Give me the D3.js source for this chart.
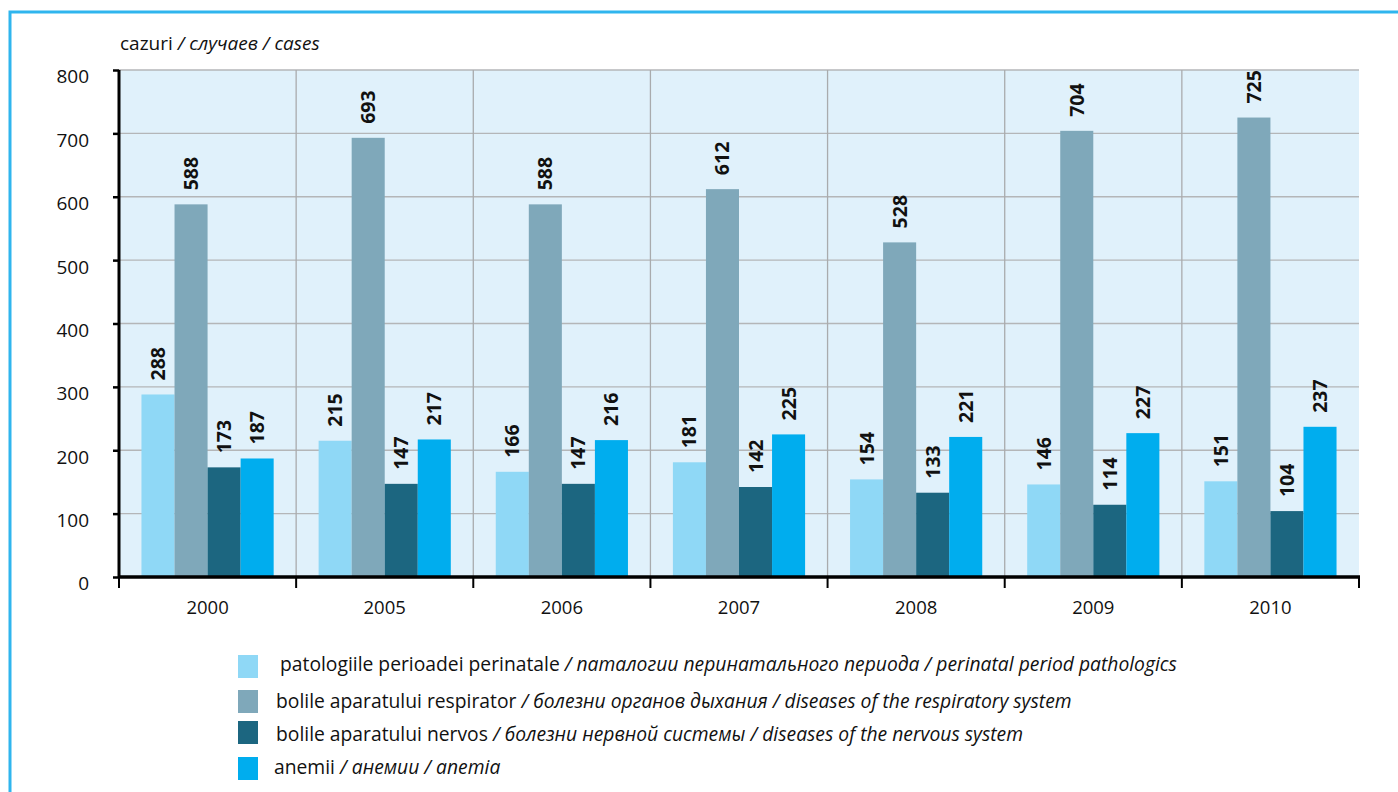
<!DOCTYPE html>
<html><head><meta charset="utf-8">
<script src="https://cdn.jsdelivr.net/npm/d3@7"></script>
<style>
html,body{margin:0;padding:0;background:#fff;}
svg{display:block;}
text{font-family:"Open Sans","Noto Sans",sans-serif;}
</style></head>
<body>
<script>
const years = ["2000","2005","2006","2007","2008","2009","2010"];
const perinatal = [288,215,166,181,154,146,151];
const respiratory = [588,693,588,612,528,704,725];
const nervous = [173,147,147,142,133,114,104];
const anemia = [187,217,216,225,221,227,237];
const yTicks = [0,100,200,300,400,500,600,700,800];
const seriesKeys = ["perinatal","respiratory","nervous","anemia"];
const seriesValues = [perinatal, respiratory, nervous, anemia];
const seriesColors = ["#8fd8f6","#7fa8ba","#1c6680","#00adee"];
const legendRo = ["patologiile perioadei perinatale","bolile aparatului respirator","bolile aparatului nervos","anemii"];
const legendRest = [" / паталогии перинатального периода / perinatal period pathologics",
  " / болезни органов дыхания / diseases of the respiratory system",
  " / болезни нервной системы / diseases of the nervous system",
  " / анемии / anemia"];
const yTitleRo = "cazuri";
const yTitleRest = " / случаев / cases";

const W=1398,H=792;
const svg=d3.select("body").append("svg").attr("width",W).attr("height",H);

// frame
svg.append("path").attr("d",`M10,${H+5} L10,12 L${W+5},12`).attr("fill","none")
  .attr("stroke","#2fb5ee").attr("stroke-width",3);

const L=119,R=1359,T=70,B=577;
const x=d3.scaleBand().domain(years).range([L,R]).paddingInner(0).paddingOuter(0);
const x1=d3.scaleBand().domain(seriesKeys).range([0,x.bandwidth()]).paddingInner(0).paddingOuter(0.68);
const y=d3.scaleLinear().domain([0,800]).range([B,T]);

svg.append("rect").attr("x",L).attr("y",T).attr("width",R-L).attr("height",B-T).attr("fill","#e0f1fb");

// horizontal grid
svg.append("g").selectAll("line").data(yTicks.filter(d=>d>0)).join("line")
  .attr("x1",L).attr("x2",R).attr("y1",d=>y(d)).attr("y2",d=>y(d))
  .attr("stroke","#b4b6b8").attr("stroke-width",1.3);
// vertical grid
svg.append("g").selectAll("line").data(years.slice(1)).join("line")
  .attr("x1",d=>x(d)).attr("x2",d=>x(d)).attr("y1",T).attr("y2",B)
  .attr("stroke","#a9abad").attr("stroke-width",1.3);

// bars
const groups=svg.append("g").selectAll("g").data(years).join("g")
  .attr("transform",d=>`translate(${x(d)},0)`);
seriesKeys.forEach((k,si)=>{
  groups.append("rect")
    .attr("x",x1(k)).attr("width",x1.bandwidth())
    .attr("y",(d,i)=>y(seriesValues[si][i]))
    .attr("height",(d,i)=>B-y(seriesValues[si][i]))
    .attr("fill",seriesColors[si]);
  groups.append("text")
    .attr("transform",(d,i)=>`translate(${x1(k)+x1.bandwidth()/2+7},${y(seriesValues[si][i])-14}) rotate(-90)`)
    .attr("font-size",19.5).attr("font-weight","bold").attr("fill","#111")
    .text((d,i)=>seriesValues[si][i]);
});

// y axis
const yAxis=d3.axisLeft(y).tickValues(yTicks).tickSize(6).tickPadding(24).tickFormat(d3.format("d"));
const gy=svg.append("g").attr("transform",`translate(${L},0)`).call(yAxis);
gy.select(".domain").attr("stroke","#000").attr("stroke-width",3).attr("d",`M0,${T}V${B+1}`);
gy.selectAll(".tick line").attr("stroke","#000").attr("stroke-width",2.5);
gy.selectAll(".tick text").attr("font-size",19).attr("fill","#111").attr("font-family","Open Sans").attr("dy","0.68em");

// x axis
const bounds=years.map(d=>x(d)).concat([R]);
svg.append("line").attr("x1",L-1).attr("x2",R+1).attr("y1",B).attr("y2",B).attr("stroke","#000").attr("stroke-width",3.5);
svg.append("g").selectAll("line").data(bounds).join("line")
  .attr("x1",d=>d).attr("x2",d=>d).attr("y1",B).attr("y2",B+11)
  .attr("stroke","#000").attr("stroke-width",2);
svg.append("g").selectAll("text").data(years).join("text")
  .attr("x",d=>x(d)+x.bandwidth()/2).attr("y",B+37).attr("text-anchor","middle")
  .attr("font-size",18.5).attr("fill","#111").text(d=>d);

// y title
const yt=svg.append("text").attr("x",120).attr("y",50).attr("font-size",19).attr("fill","#111");
yt.append("tspan").text(yTitleRo);
yt.append("tspan").attr("font-style","italic").text(yTitleRest);

// legend
const legY=[655,690,721,757];
const legTx=[280,276,276,274];
const legTy=[671,708,741,774];
legendRo.forEach((t,i)=>{
  svg.append("rect").attr("x",238).attr("y",legY[i]).attr("width",20).attr("height",23).attr("fill",seriesColors[i]);
  const tx=svg.append("text").attr("x",legTx[i]).attr("y",legTy[i]).attr("font-size",19.3).attr("fill","#111");
  tx.append("tspan").text(t);
  tx.append("tspan").attr("font-style","italic").text(legendRest[i]);
});
</script>
</body></html>
